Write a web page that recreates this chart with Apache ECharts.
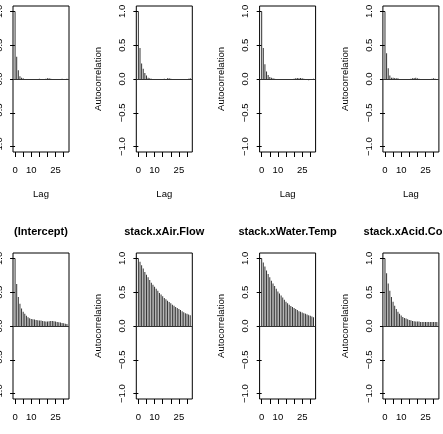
<!DOCTYPE html>
<html>
<head>
<meta charset="utf-8">
<script src="https://cdn.jsdelivr.net/npm/echarts@6/dist/echarts.min.js"></script>
<style>
  html, body { margin: 0; padding: 0; background: #fff; }
  #chart { width: 443px; height: 434px; }
</style>
</head>
<body>
<div id="chart"></div>
<script>
// lags 0..32
var lags = [];
for (var k = 0; k <= 32; k++) lags.push(k);

// top row (titles cropped off in the reference)
var topA = [1, 0.33, 0.13, 0.04, 0.02, 0.01, -0.005, -0.01, -0.01, -0.005, -0.01, 0.0, -0.005, -0.01, 0.0, 0.005, -0.005, 0.0, -0.005, 0.005, 0.01, 0.01, 0.005, 0.0, -0.005, -0.01, -0.005, -0.01, 0.0, 0.005, -0.005, 0.0, 0.005];
var topB = [1, 0.46, 0.23, 0.15, 0.09, 0.05, 0.02, 0.01, 0.005, -0.005, -0.01, -0.005, -0.01, -0.005, -0.01, 0.0, 0.005, -0.005, 0.01, 0.01, 0.005, 0.0, -0.005, -0.01, -0.005, 0.0, -0.005, -0.01, 0.0, -0.01, 0.0, 0.005, 0.01];
var topC = [1, 0.46, 0.22, 0.11, 0.06, 0.03, 0.02, 0.01, 0.005, 0.0, -0.005, -0.005, -0.01, -0.01, -0.015, -0.015, -0.01, -0.01, -0.01, -0.005, 0.005, 0.01, 0.015, 0.01, 0.015, 0.01, 0.005, 0.0, -0.01, -0.02, -0.01, 0.0, 0.005];
var topD = [1, 0.38, 0.16, 0.05, 0.02, 0.02, 0.015, 0.01, 0.01, 0.0, -0.005, -0.01, -0.01, -0.005, -0.005, 0.0, 0.005, 0.01, 0.015, 0.02, 0.01, 0.005, -0.005, -0.01, -0.01, -0.005, 0.0, -0.005, 0.0, 0.005, 0.01, 0.005, 0.0];

// bottom row
var intercept = [1, 0.62, 0.43, 0.33, 0.26, 0.21, 0.18, 0.15, 0.13, 0.115, 0.105, 0.10, 0.095, 0.09, 0.085, 0.08, 0.08, 0.075, 0.07, 0.065, 0.065, 0.07, 0.075, 0.075, 0.07, 0.065, 0.06, 0.055, 0.05, 0.045, 0.04, 0.035, 0.03];
var airFlow = [1, 0.95, 0.90, 0.85, 0.80, 0.76, 0.72, 0.68, 0.64, 0.61, 0.58, 0.55, 0.52, 0.49, 0.465, 0.44, 0.415, 0.395, 0.375, 0.355, 0.335, 0.315, 0.30, 0.28, 0.265, 0.25, 0.235, 0.22, 0.205, 0.19, 0.18, 0.17, 0.16];
var waterTemp = [1, 0.94, 0.88, 0.82, 0.77, 0.72, 0.67, 0.63, 0.59, 0.55, 0.51, 0.48, 0.45, 0.42, 0.39, 0.36, 0.335, 0.315, 0.295, 0.28, 0.265, 0.25, 0.235, 0.22, 0.21, 0.20, 0.19, 0.18, 0.17, 0.16, 0.15, 0.14, 0.13];
var acidConc = [1, 0.78, 0.63, 0.52, 0.43, 0.36, 0.30, 0.25, 0.21, 0.18, 0.155, 0.135, 0.12, 0.11, 0.10, 0.09, 0.085, 0.075, 0.07, 0.065, 0.065, 0.065, 0.06, 0.06, 0.06, 0.06, 0.06, 0.06, 0.06, 0.06, 0.06, 0.06, 0.06];

var panels = [
    { title: '', acf: topA },
    { title: '', acf: topB },
    { title: '', acf: topC },
    { title: '', acf: topD },
    { title: '(Intercept)', acf: intercept },
    { title: 'stack.xAir.Flow', acf: airFlow },
    { title: 'stack.xWater.Temp', acf: waterTemp },
    { title: 'stack.xAcid.Conc.', acf: acidConc }
];

var yTicks = [-1, -0.5, 0, 0.5, 1];
var xTicks = [0, 5, 10, 15, 20, 25, 30];
var xLabels = [0, 10, 25];

var font = 'Liberation Sans, Arial, Helvetica, sans-serif';
var boxW = 56, boxH = 146;
var rowTop = [6, 253];

var grid = [], xAxis = [], yAxis = [], series = [], graphic = [];

panels.forEach(function (p, i) {
    var col = i % 4, row = Math.floor(i / 4);
    var left = 13 + col * 123.3;
    var top = rowTop[row];
    grid.push({
        left: left, top: top, width: boxW, height: boxH,
        containLabel: false, outerBoundsMode: 'none',
        show: true, borderColor: '#000', borderWidth: 1, backgroundColor: 'transparent'
    });
    xAxis.push({
        type: 'value', gridIndex: i, min: -1.28, max: 33.28,
        name: 'Lag', nameLocation: 'middle', nameGap: 37,
        nameTextStyle: { fontFamily: font, fontSize: 9.5, color: '#000' },
        axisLine: { show: false, onZero: false },
        splitLine: { show: false },
        axisTick: { show: true, length: 5, lineStyle: { color: '#000' }, customValues: xTicks },
        axisLabel: { fontFamily: font, fontSize: 9.5, color: '#000', margin: 13, customValues: xLabels }
    });
    yAxis.push({
        type: 'value', gridIndex: i, min: -1.08, max: 1.08,
        name: 'Autocorrelation', nameLocation: 'middle', nameGap: 33,
        nameTextStyle: { fontFamily: font, fontSize: 9.5, color: '#000' },
        axisLine: { show: false },
        splitLine: { show: false },
        axisTick: { show: true, length: 5, lineStyle: { color: '#000' }, customValues: yTicks },
        axisLabel: {
            fontFamily: font, fontSize: 9.5, color: '#000', rotate: 90, margin: 9,
            customValues: yTicks,
            formatter: function (v) { return v.toFixed(1).replace('-', '\u2212'); }
        }
    });
    series.push({
        type: 'bar', xAxisIndex: i, yAxisIndex: i,
        data: lags.map(function (l, j) { return [l, p.acf[j]]; }),
        barWidth: 1,
        itemStyle: { color: '#333' },
        silent: true,
        animation: false,
        markLine: {
            silent: true, symbol: 'none', animation: false,
            label: { show: false },
            lineStyle: { color: '#333', width: 1, type: 'solid' },
            data: [{ yAxis: 0 }]
        }
    });
    if (p.title) {
        graphic.push({
            type: 'text', x: left + boxW / 2, y: top - 21,
            style: {
                text: p.title, align: 'center', verticalAlign: 'middle',
                font: 'bold 11px ' + font, fill: '#000'
            }
        });
    }
});

var chart = echarts.init(document.getElementById('chart'), null, { renderer: 'canvas' });
chart.setOption({
    animation: false,
    backgroundColor: '#fff',
    grid: grid,
    xAxis: xAxis,
    yAxis: yAxis,
    series: series,
    graphic: graphic
});
</script>
</body>
</html>
